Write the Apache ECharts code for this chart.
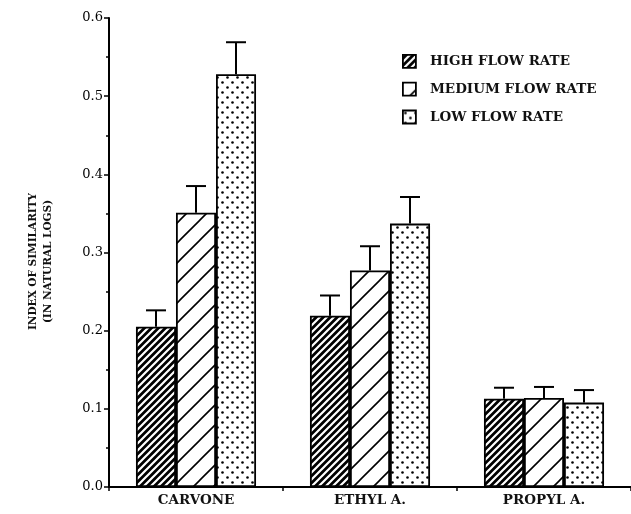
<!DOCTYPE html>
<html><head><meta charset="utf-8">
<script src="https://cdn.jsdelivr.net/npm/echarts@6/dist/echarts.min.js"></script>
<style>html,body{margin:0;padding:0;background:#fff}#c{width:631px;height:514px}</style>
</head><body><div id="c"></div>
<script>
const categories = ['CARVONE', 'ETHYL A.', 'PROPYL A.'];
const seriesNames = ['HIGH FLOW RATE', 'MEDIUM FLOW RATE', 'LOW FLOW RATE'];
const highValues = [0.205, 0.219, 0.113];
const mediumValues = [0.351, 0.277, 0.114];
const lowValues = [0.528, 0.337, 0.108];
const highErrTop = [0.226, 0.245, 0.127];
const mediumErrTop = [0.385, 0.308, 0.128];
const lowErrTop = [0.569, 0.371, 0.124];
const yTicks = ['0.0', '0.1', '0.2', '0.3', '0.4', '0.5', '0.6'];

function makePattern(size, draw) {
  const c = document.createElement('canvas');
  c.width = size; c.height = size;
  const ctx = c.getContext('2d');
  draw(ctx, size);
  return { image: c, repeat: 'repeat' };
}
function diag(ctx, s, bg, fg, lw) {
  ctx.fillStyle = bg; ctx.fillRect(0, 0, s, s);
  ctx.strokeStyle = fg; ctx.lineWidth = lw;
  ctx.beginPath();
  ctx.moveTo(-1, s + 1); ctx.lineTo(s + 1, -1);
  ctx.moveTo(-1, 1); ctx.lineTo(1, -1);
  ctx.moveTo(s - 1, s + 1); ctx.lineTo(s + 1, s - 1);
  ctx.stroke();
}
const patHigh = makePattern(7, (ctx, s) => diag(ctx, s, '#000', '#fff', 2.2));
const patMed = makePattern(20, (ctx, s) => diag(ctx, s, '#fff', '#000', 1.6));
const patLow = makePattern(10, (ctx, s) => {
  ctx.fillStyle = '#fff'; ctx.fillRect(0, 0, s, s);
  ctx.fillStyle = '#000';
  ctx.beginPath(); ctx.arc(2.5, 2.5, 1.3, 0, Math.PI * 2); ctx.fill();
  ctx.beginPath(); ctx.arc(7.5, 7.5, 1.3, 0, Math.PI * 2); ctx.fill();
});
const patterns = [patHigh, patMed, patLow];
const valueSets = [highValues, mediumValues, lowValues];
const errSets = [highErrTop, mediumErrTop, lowErrTop];
const BAR_FRAC = 0.23;
const FONT = 'DejaVu Serif';

const series = [];
valueSets.forEach((vals, k) => {
  series.push({
    name: seriesNames[k], type: 'bar', data: vals,
    barWidth: (BAR_FRAC * 100) + '%', barGap: '0%',
    itemStyle: { color: patterns[k], borderColor: '#000', borderWidth: 1.8 },
    emphasis: { disabled: true }, z: 2
  });
});
valueSets.forEach((vals, k) => {
  series.push({
    type: 'custom', silent: true, z: 3,
    data: vals.map((v, i) => [i, v, errSets[k][i]]),
    renderItem: function (params, api) {
      const band = api.size([1, 0])[0];
      const w = band * BAR_FRAC;
      const dx = (k - 1) * w;
      const p0 = api.coord([api.value(0), api.value(1)]);
      const p1 = api.coord([api.value(0), api.value(2)]);
      const x = p0[0] + dx;
      const cap = 10;
      return {
        type: 'group', children: [
          { type: 'line', shape: { x1: x, y1: p0[1], x2: x, y2: p1[1] }, style: { stroke: '#000', lineWidth: 2 } },
          { type: 'line', shape: { x1: x - cap, y1: p1[1], x2: x + cap, y2: p1[1] }, style: { stroke: '#000', lineWidth: 2 } }
        ]
      };
    }
  });
});

const chart = echarts.init(document.getElementById('c'), null, { renderer: 'canvas' });
chart.setOption({
  animation: false,
  backgroundColor: '#fff',
  grid: { left: 109, right: 0, top: 18, bottom: 27, containLabel: false },
  legend: {
    orient: 'vertical', left: 397, top: 49,
    icon: 'rect',
    itemWidth: 13, itemHeight: 13, itemGap: 13,
    data: seriesNames,
    textStyle: { fontFamily: FONT, fontWeight: 'bold', fontSize: 13.5, color: '#111', lineHeight: 14, padding: [0, 0, 0, 9] },
    itemStyle: { borderColor: '#000', borderWidth: 1.8 }
  },
  xAxis: {
    type: 'category', data: categories,
    axisLine: { lineStyle: { color: '#000', width: 2 } },
    axisTick: { show: true, length: 4, lineStyle: { color: '#000', width: 1.5 } },
    axisLabel: { fontFamily: FONT, fontWeight: 'bold', fontSize: 13.5, color: '#111', margin: 6 }
  },
  yAxis: {
    type: 'value', min: 0, max: 0.6, interval: 0.1,
    name: 'INDEX OF SIMILARITY\n(IN NATURAL LOGS)',
    nameLocation: 'middle', nameGap: 53, nameRotate: 90,
    nameTextStyle: { fontFamily: FONT, fontWeight: 'bold', fontSize: 10.5, color: '#111', lineHeight: 15, padding: [0, 18, 0, 0] },
    axisLine: { show: true, lineStyle: { color: '#000', width: 2 } },
    axisTick: { show: true, length: 5, lineStyle: { color: '#000', width: 1.5 } },
    minorTick: { show: true, splitNumber: 2, length: 3, lineStyle: { color: '#000', width: 1.5 } },
    splitLine: { show: false },
    axisLabel: {
      fontFamily: FONT, fontSize: 13, color: '#000', margin: 6,
      formatter: v => yTicks[Math.round(v * 10)]
    }
  },
  series: series
});
</script>
</body></html>
